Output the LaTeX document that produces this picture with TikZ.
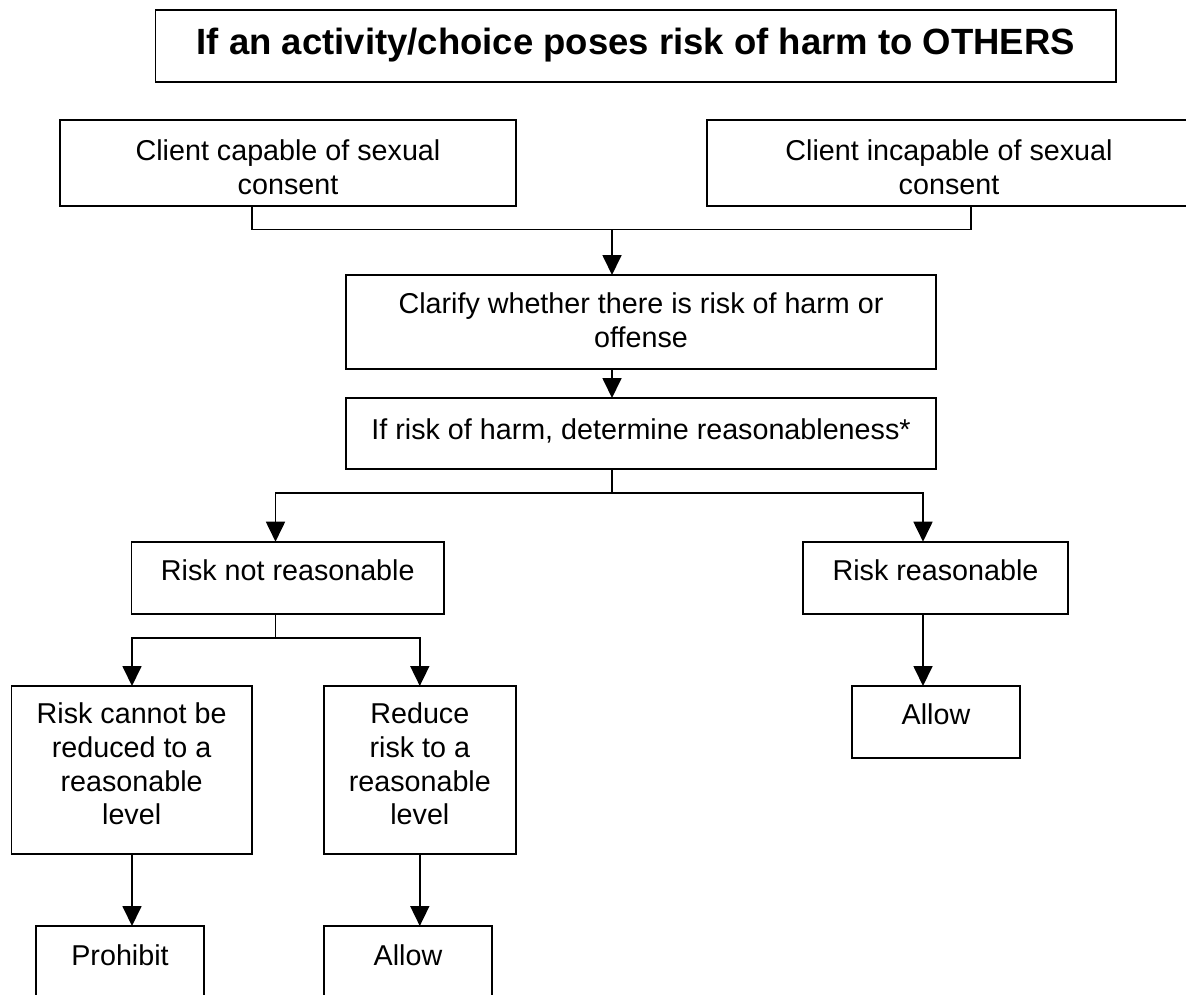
\documentclass[tikz,border=0pt]{standalone}
\usepackage{fontspec}
\setmainfont{Liberation Sans}
\usetikzlibrary{arrows.meta}
\tikzset{
  box/.style={draw=black, line width=1.8pt, fill=white, inner sep=0pt, outer sep=0pt, anchor=north west},
  txt/.style={font=\fontsize{28.7}{33.8}\selectfont, align=center, inner sep=0pt, anchor=north},
  ttl/.style={font=\fontsize{36.5}{40}\selectfont\bfseries, inner sep=0pt, anchor=base},
  conn/.style={draw=black, line width=1.8pt},
  arr/.style={conn, -{Triangle[width=19pt,length=20pt]}}
}
\begin{document}
\begin{tikzpicture}[x=1pt,y=-1pt]
\clip (0,0) rectangle (1186,995);
\fill[white] (0,0) rectangle (1186,995);
% boxes
\node[box, minimum width=960.5pt, minimum height=72pt] (title) at (155.5,10) {};
\node[box, minimum width=456pt, minimum height=86pt] (cap) at (60,120) {};
\node[box, minimum width=484pt, minimum height=86pt] (inc) at (707,120) {};
\node[box, minimum width=590pt, minimum height=94pt] (clar) at (346,275) {};
\node[box, minimum width=590pt, minimum height=71pt] (ifr) at (346,398) {};
\node[box, minimum width=312.5pt, minimum height=72.3pt] (rnr) at (131.5,541.7) {};
\node[box, minimum width=265pt, minimum height=72.3pt] (rr) at (803,541.7) {};
\node[box, minimum width=240.3pt, minimum height=168pt] (cnr) at (11.5,686) {};
\node[box, minimum width=192.1pt, minimum height=168pt] (red) at (323.8,686) {};
\node[box, minimum width=168pt, minimum height=72pt] (al1) at (852,686) {};
\node[box, minimum width=168pt, minimum height=90pt] (proh) at (36,926) {};
\node[box, minimum width=168pt, minimum height=90pt] (al2) at (324,926) {};
% texts
\node[ttl] (titlet) at (635.8,55) {If an activity/choice poses risk of harm to OTHERS};
\node[txt] (capt) at ([yshift=-19.5pt]cap.north) {Client capable of sexual\\consent};
\node[txt] (inct) at ([yshift=-19.5pt]inc.north) {Client incapable of sexual\\consent};
\node[txt] (clart) at ([yshift=-17.5pt]clar.north) {Clarify whether there is risk of harm or\\offense};
\node[txt] (ifrt) at ([yshift=-21pt]ifr.north) {If risk of harm, determine reasonableness*};
\node[txt] (rnrt) at ([yshift=-18pt]rnr.north) {Risk not reasonable};
\node[txt] (rrt) at ([yshift=-18pt]rr.north) {Risk reasonable};
\node[txt] (cnrt) at ([yshift=-16.5pt]cnr.north) {Risk cannot be\\reduced to a\\reasonable\\level};
\node[txt] (redt) at ([yshift=-16.5pt]red.north) {Reduce\\risk to a\\reasonable\\level};
\node[txt] (al1t) at ([yshift=-17.5pt]al1.north) {Allow};
\node[txt] (proht) at ([yshift=-18pt]proh.north) {Prohibit};
\node[txt] (al2t) at ([yshift=-18pt]al2.north) {Allow};
% junction coordinates
\coordinate (j1) at (252,229.5);
\coordinate (j2) at (971,229.5);
\coordinate (j0) at (612,229.5);
\coordinate (k0) at (612,493.3);
\coordinate (kL) at (275.5,493.3);
\coordinate (kR) at (923,493.3);
\coordinate (m0) at (275.5,637.7);
\coordinate (mL) at (132,637.7);
\coordinate (mR) at (419.8,637.7);
% connectors
\draw[conn] (j1 |- cap.south) -- (j1) -- (j2) -- (j2 |- inc.south);
\draw[arr] (j0) -- (j0 |- clar.north);
\draw[arr] (j0 |- clar.south) -- (j0 |- ifr.north);
\draw[conn] (j0 |- ifr.south) -- (k0);
\draw[arr] (k0) -- (kL) -- (kL |- rnr.north);
\draw[arr] (k0) -- (kR) -- (kR |- rr.north);
\draw[conn] (m0 |- rnr.south) -- (m0);
\draw[arr] (m0) -- (mL) -- (mL |- cnr.north);
\draw[arr] (m0) -- (mR) -- (mR |- red.north);
\draw[arr] (kR |- rr.south) -- (kR |- al1.north);
\draw[arr] (mL |- cnr.south) -- (mL |- proh.north);
\draw[arr] (mR |- red.south) -- (mR |- al2.north);
\end{tikzpicture}
\end{document}
